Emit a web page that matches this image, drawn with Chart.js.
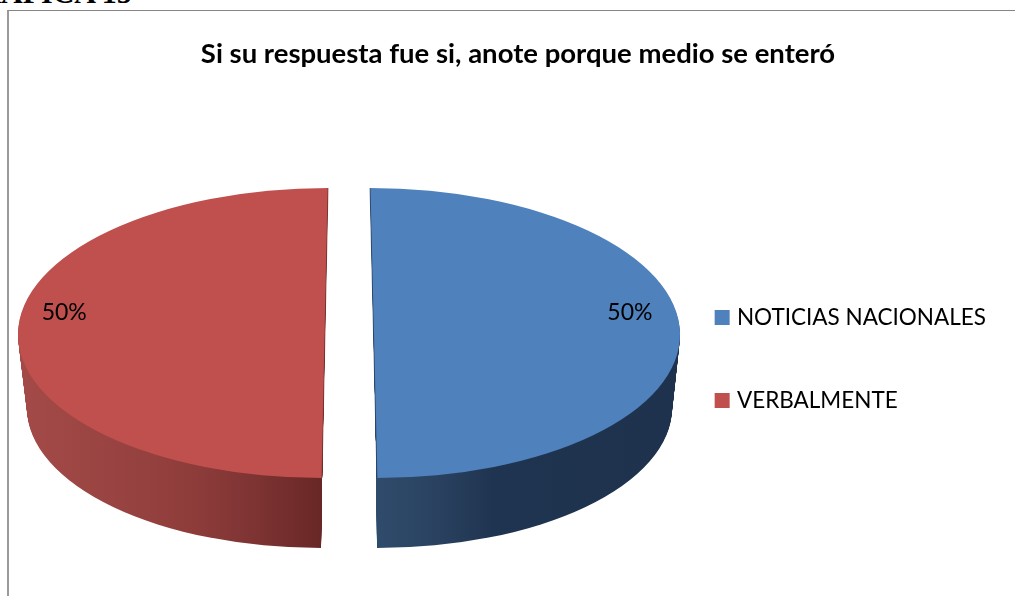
<!DOCTYPE html>
<html lang="es">
<head>
<meta charset="utf-8">
<title>Si su respuesta fue si</title>
<script src="https://cdn.jsdelivr.net/npm/chart.js@4"></script>
<style>
  html, body { margin: 0; padding: 0; background: #fff; overflow: hidden; width: 1015px; height: 596px; }
  #heading { position: absolute; left: -44px; top: -24px; font: bold 30px "Liberation Serif", serif; color: #000; white-space: nowrap; }
  #frame { position: absolute; left: 7px; top: 10px; width: 1100px; height: 700px; border-top: 1px solid #868686; border-left: 2px solid #9a9a9a; }
  #myChart { position: absolute; left: 0; top: 0; }
</style>
</head>
<body>
<div id="heading">GRÁFICA 15</div>
<div id="frame"></div>
<canvas id="myChart" width="1015" height="718"></canvas>
<script>
const categories = ["NOTICIAS NACIONALES", "VERBALMENTE"];
const shares = [50, 50];
const sliceColors = ["#4F81BD", "#C0504D"];

// where each slice sits on the page once tilted: top face, then the bottom of the wall
const topFace = [
  { cx: 373.5, cy: 333, rx: 306.5, ry: 145, skew: 0.024 },
  { cx: 325, cy: 333, rx: 307, ry: 145, skew: -0.021 },
];
const bottomFace = [
  { cx: 377, cy: 408, rx: 295, ry: 140, skew: 0 },
  { cx: 321, cy: 408, rx: 294, ry: 140, skew: 0 },
];
const wallShades = [
  [[377, "#2F4B6B"], [437, "#2A4260"], [493, "#1F3450"], [672, "#1E324D"]],
  [[26, "#A34A48"], [110, "#994442"], [187, "#8F3D3B"], [253, "#7E3433"], [322, "#682726"]],
];

function placeSlice(ctx, el, f) {
  const k = f.rx / el.outerRadius;
  const m = f.ry / el.outerRadius;
  ctx.translate(f.cx, f.cy);
  ctx.transform(k, 0, f.skew * m, m, 0, 0);
  ctx.translate(-el.x, -el.y);
}

const tiltedPie = {
  id: "tiltedPie",
  beforeDatasetDraw(chart, args) {
    const ctx = chart.ctx;
    const arcs = args.meta.data;
    arcs.forEach((el, i) => {
      const a = bottomFace[i];
      const b = topFace[i];
      const x0 = wallShades[i][0][0];
      const x1 = wallShades[i][wallShades[i].length - 1][0];
      const grad = ctx.createLinearGradient(x0, 0, x1, 0);
      wallShades[i].forEach(s => grad.addColorStop((s[0] - x0) / (x1 - x0), s[1]));
      // wall = stack of thin slices going up from the bottom face
      const steps = 70;
      for (let n = 0; n < steps; n++) {
        const t = n / steps;
        const f = {};
        for (const key in a) f[key] = a[key] + (b[key] - a[key]) * t;
        ctx.save();
        placeSlice(ctx, el, f);
        ctx.beginPath();
        ctx.moveTo(el.x, el.y);
        ctx.arc(el.x, el.y, el.outerRadius, el.startAngle, el.endAngle);
        ctx.closePath();
        ctx.restore();
        ctx.fillStyle = grad;
        ctx.fill();
      }
    });
    arcs.forEach((el, i) => {
      ctx.save();
      placeSlice(ctx, el, topFace[i]);
      el.draw(ctx);
      ctx.restore();
      // thin dark edge along the cut
      ctx.save();
      placeSlice(ctx, el, topFace[i]);
      ctx.beginPath();
      ctx.moveTo(el.x + Math.cos(el.startAngle) * el.outerRadius, el.y + Math.sin(el.startAngle) * el.outerRadius);
      ctx.lineTo(el.x + Math.cos(el.endAngle) * el.outerRadius, el.y + Math.sin(el.endAngle) * el.outerRadius);
      ctx.restore();
      ctx.globalAlpha = 0.6;
      ctx.lineWidth = 1;
      ctx.strokeStyle = wallShades[i][wallShades[i].length - 1][1];
      ctx.stroke();
      ctx.globalAlpha = 1;
    });
    // percent labels
    const total = shares.reduce((s, v) => s + v, 0);
    ctx.save();
    ctx.font = '23px Lato';
    ctx.fillStyle = "#000";
    ctx.textAlign = "center";
    ctx.textBaseline = "middle";
    arcs.forEach((el, i) => {
      const mid = (el.startAngle + el.endAngle) / 2;
      const f = topFace[i];
      const x = f.cx + Math.cos(mid) * f.rx * 0.843 - 2;
      const y = f.cy + Math.sin(mid) * f.ry * 0.843 - 20;
      ctx.fillText(Math.round(shares[i] / total * 100) + "%", x, y);
    });
    ctx.restore();
    return false;
  },
};

new Chart(document.getElementById("myChart").getContext("2d"), {
  type: "pie",
  data: {
    labels: categories,
    datasets: [{ data: shares, backgroundColor: sliceColors, borderWidth: 0 }],
  },
  options: {
    responsive: false,
    animation: false,
    devicePixelRatio: 1,
    layout: { padding: { left: 40, right: 19 } },
    plugins: {
      tooltip: { enabled: false },
      title: {
        display: true,
        text: "Si su respuesta fue si, anote porque medio se enteró",
        color: "#000",
        font: { family: "Lato", size: 27.5, weight: "bold" },
        padding: { top: 38, bottom: 20 },
      },
      legend: {
        position: "right",
        labels: {
          color: "#000",
          font: { family: "Lato", size: 22.5 },
          // small box + thick same-colour stroke: keeps the text close to a 15px swatch
          boxWidth: 7,
          boxHeight: 7,
          padding: 60.5,
          generateLabels(chart) {
            const items = Chart.overrides.pie.plugins.legend.labels.generateLabels(chart);
            items.forEach(it => { it.lineWidth = 8; it.strokeStyle = it.fillStyle; });
            return items;
          },
        },
      },
    },
  },
  plugins: [tiltedPie],
});
</script>
</body>
</html>
